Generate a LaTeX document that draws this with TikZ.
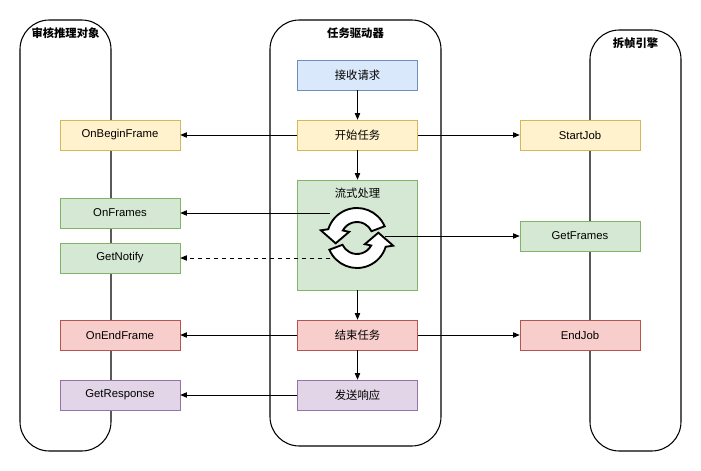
\documentclass[tikz,border=0pt]{standalone}
\usepackage{fontspec}
\setmainfont{Liberation Sans}
\newfontfamily\cjk{Noto Sans CJK SC}
\usetikzlibrary{arrows.meta}
\definecolor{yf}{HTML}{FFF2CC}\definecolor{yd}{HTML}{D6B656}
\definecolor{gf}{HTML}{D5E8D4}\definecolor{gd}{HTML}{82B366}
\definecolor{rf}{HTML}{F8CECC}\definecolor{rd}{HTML}{B85450}
\definecolor{pf}{HTML}{E1D5E7}\definecolor{pd}{HTML}{9673A6}
\definecolor{bf}{HTML}{DAE8FC}\definecolor{bd}{HTML}{6C8EBF}
\begin{document}
\begin{tikzpicture}[x=0.75pt,y=-0.75pt,
  lane/.style={draw,rounded corners=22pt,line width=0.8pt},
  box/.style={draw,minimum width=90pt,minimum height=22.5pt,font=\fontsize{8.5}{10}\selectfont,inner sep=0},
  yel/.style={box,fill=yf,draw=yd},
  grn/.style={box,fill=gf,draw=gd},
  red/.style={box,fill=rf,draw=rd},
  pur/.style={box,fill=pf,draw=pd},
  blu/.style={box,fill=bf,draw=bd},
  zh/.style={font=\cjk\fontsize{8.5}{10}\selectfont},
  ttl/.style={font=\cjk\bfseries\fontsize{8.5}{10}\selectfont},
  arr/.style={-{Triangle[length=5pt,width=4pt]},line width=0.6pt},
  icon/.style={fill=white,draw=black,line width=1.4pt,line join=miter}]
\useasboundingbox (0,0) rectangle (701,471);
\draw[lane] (20,20) rectangle (111,451);
\draw[lane] (270,20) rectangle (441,446);
\draw[lane] (590,30) rectangle (681,451);
\node[ttl] at (65.5,33) {审核推理对象};
\node[ttl] at (355.5,33) {任务驱动器};
\node[ttl] at (635.5,43) {拆帧引擎};

\node[blu,zh] (req) at (357.5,75) {接收请求};
\node[yel,zh] (start) at (357.5,135) {开始任务};
\node[yel] (obf) at (120,135) {OnBeginFrame};
\node[yel] (sj) at (580,135) {StartJob};
\node[grn,minimum height=82.5pt] (flow) at (357.5,235) {};
\node[zh] at (357.5,193) {流式处理};
\node[grn] (onf) at (120,213) {OnFrames};
\node[grn] (gn) at (120,258) {GetNotify};
\node[grn] (gf) at (580,236) {GetFrames};
\node[red,zh] (end) at (357.5,335) {结束任务};
\node[red] (oef) at (120,335) {OnEndFrame};
\node[red] (ej) at (580,335) {EndJob};
\node[pur,zh] (resp) at (357.5,395) {发送响应};
\node[pur] (gr) at (120,395) {GetResponse};

% cycle icon
\begin{scope}[shift={(357,238)}]
 \foreach \r in {0,180}{
  \begin{scope}[rotate=\r]
   \draw[icon] (157:30) arc[start angle=157,end angle=17,radius=30]
     -- (12:37) -- (-14:22) -- (38:10) -- (28:16)
     arc[start angle=28,end angle=155,radius=16] -- cycle;
  \end{scope}}
\end{scope}
\coordinate (il) at (330,213);
\coordinate (in) at (330,258);
\coordinate (ir) at (385,236);

\draw[arr] (req) -- (start);
\draw[arr] (start) -- (flow);
\draw[arr] (flow) -- (end);
\draw[arr] (end) -- (resp);
\draw[arr] (start) -- (obf);
\draw[arr] (start) -- (sj);
\draw[arr] (end) -- (oef);
\draw[arr] (end) -- (ej);
\draw[arr] (resp) -- (gr);
\draw[arr] (il) -- (onf);
\draw[arr,dashed] (in) -- (gn);
\draw[arr] (ir) -- (gf);
\end{tikzpicture}
\end{document}
